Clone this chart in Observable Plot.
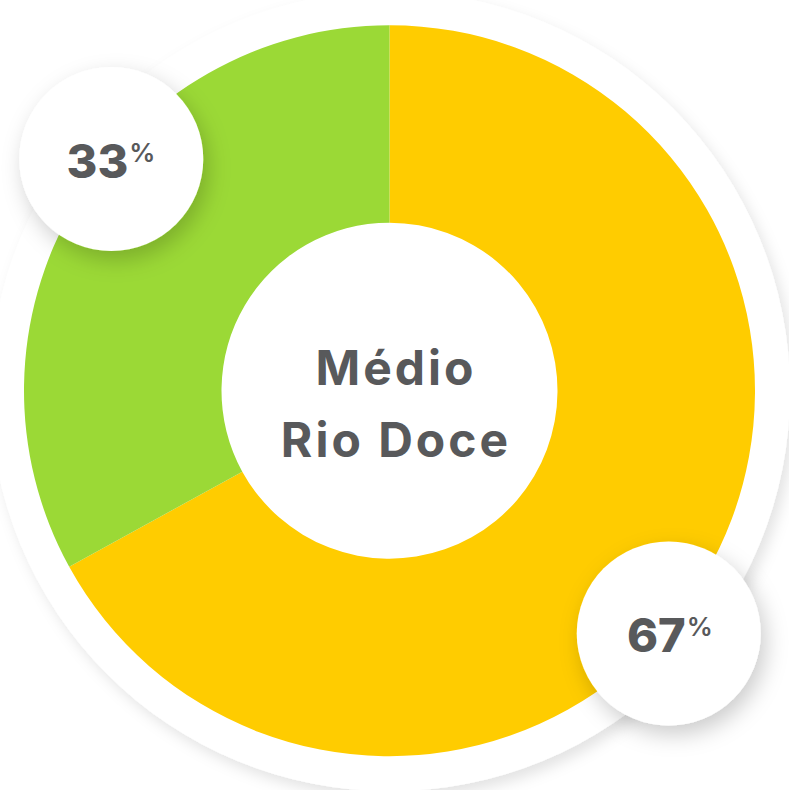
<!DOCTYPE html>
<html>
<head>
<meta charset="utf-8">
<script src="https://cdn.jsdelivr.net/npm/d3@7"></script>
<script src="https://cdn.jsdelivr.net/npm/@observablehq/plot@0.6"></script>
<style>
  html, body { margin: 0; padding: 0; background: #ffffff; }
  #chart svg { display: block; }
</style>
</head>
<body>
<div id="chart"></div>
<script>
// Share of each group in the region (percent), drawn clockwise from 12 o'clock
const groups = ["A", "B"];
const shares = [67, 33];
const shareLabels = ["67", "33"];
const centerTitle = ["Médio", "Rio Doce"];

// Styling
const sliceColors = ["#FFCC00", "#9BD936"];
const ink = "#58595B";
const font = "Inter, 'Noto Sans', sans-serif";

// Geometry, in pixel-sized data units around the donut centre
const W = 789, H = 790;
const CX = 389.5, CY = 390.7;
const R_OUTER = 365.5, R_INNER = 168;
const R_BACK = 400;       // white plate behind the ring
const R_BADGE = 92;       // white badges carrying the percentages
const BADGE_RING = 366;   // distance of badge centres from the donut centre
const BADGE_SHIFT = 9.8;  // badges sit a little clockwise of each slice's middle
const BADGE_DROP = 5;     // and slightly below that ring

const slices = groups.map((g, i) => ({group: g, share: shares[i], label: shareLabels[i]}));
const arcs = d3.pie().sort(null).value(d => d.share)(slices);

// Badge positions from the slice angles (angle 0 = up, clockwise)
const badges = arcs.map(a => {
  const ang = (a.startAngle + a.endAngle) / 2 + BADGE_SHIFT * Math.PI / 180;
  return {x: BADGE_RING * Math.sin(ang), y: BADGE_RING * Math.cos(ang) - BADGE_DROP, label: a.data.label};
});

// Donut slices drawn through Plot's x/y scales
function donut(index, scales) {
  const cx = scales.x(0), cy = scales.y(0);
  const outer = scales.x(R_OUTER) - cx;
  const inner = scales.x(R_INNER) - cx;
  const color = scales.color ?? d3.scaleOrdinal(groups, sliceColors);
  const g = d3.create("svg:g").attr("aria-label", "donut").attr("transform", `translate(${cx},${cy})`);
  g.selectAll("path")
    .data(arcs)
    .join("path")
    .attr("d", d3.arc().innerRadius(inner).outerRadius(outer))
    .attr("fill", d => color(d.data.group));
  return g.node();
}

const plot = Plot.plot({
  width: W,
  height: H,
  margin: 0,
  x: {domain: [-CX, W - CX], range: [0, W], axis: null},
  y: {domain: [CY, CY - H], range: [0, H], axis: null},
  color: {domain: groups, range: sliceColors},
  style: {background: "#ffffff", fontFamily: font},
  marks: [
    // white plate with soft shadow
    Plot.dot([{x: 0, y: 0}], {x: "x", y: "y", r: R_BACK, fill: "#ffffff", stroke: null}),
    donut,
    // percentage badges
    Plot.dot(badges, {x: "x", y: "y", r: R_BADGE, fill: "#ffffff", stroke: null}),
    Plot.text(badges, {
      x: "x", y: "y", text: "label",
      textAnchor: "end", lineAnchor: "bottom", dx: 17, dy: 19,
      fontSize: 47, fontWeight: 800, fill: ink, fontFamily: font
    }),
    Plot.text(badges, {
      x: "x", y: "y", text: () => "%",
      textAnchor: "start", lineAnchor: "bottom", dx: 18, dy: 3,
      fontSize: 26, fontWeight: 600, fill: ink, fontFamily: font
    }),
    // centre title
    Plot.text([centerTitle.join("\n")], {
      x: () => 0, y: () => 0, text: d => d,
      textAnchor: "middle", lineAnchor: "bottom", lineHeight: 1.5, dx: 6, dy: 66,
      fontSize: 48, fontWeight: 700, fill: ink, fontFamily: font
    })
  ]
});

// Drop shadows for the plate and the badges
const svg = d3.select(plot);
const defs = svg.insert("defs", ":first-child");
defs.append("filter").attr("id", "plate-shadow")
  .attr("x", "-20%").attr("y", "-20%").attr("width", "140%").attr("height", "140%")
  .append("feDropShadow")
  .attr("dx", 5).attr("dy", 7).attr("stdDeviation", 7)
  .attr("flood-color", "#000").attr("flood-opacity", 0.11);
defs.append("filter").attr("id", "badge-shadow")
  .attr("x", "-40%").attr("y", "-40%").attr("width", "180%").attr("height", "180%")
  .append("feDropShadow")
  .attr("dx", 5).attr("dy", 9).attr("stdDeviation", 11)
  .attr("flood-color", "#000").attr("flood-opacity", 0.2);
const dotGroups = plot.querySelectorAll('g[aria-label="dot"]');
d3.select(dotGroups[0]).attr("filter", "url(#plate-shadow)");
d3.select(dotGroups[1]).attr("filter", "url(#badge-shadow)");

// Wider tracking for the centre title, as in the set type
const textGroups = plot.querySelectorAll('g[aria-label="text"]');
d3.select(textGroups[2]).attr("letter-spacing", "3px");

document.getElementById("chart").appendChild(plot);
</script>
</body>
</html>
